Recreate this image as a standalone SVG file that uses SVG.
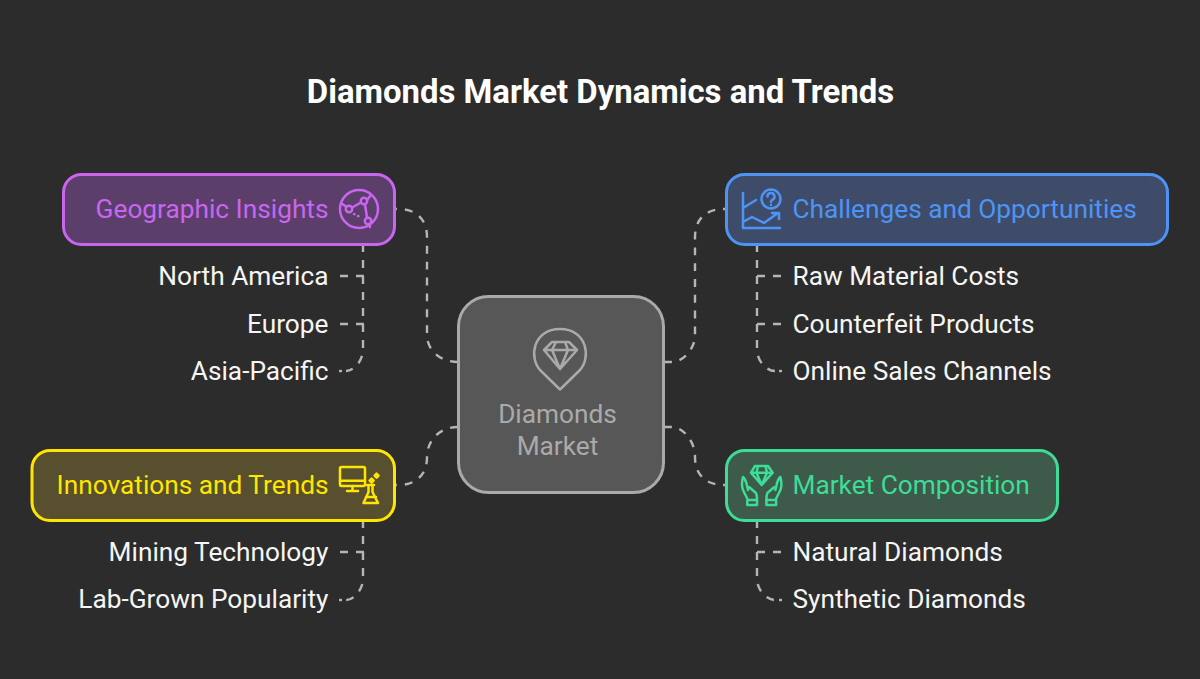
<svg xmlns="http://www.w3.org/2000/svg" width="1200" height="679" viewBox="0 0 1200 679">
<style>
text{font-family:Roboto,"Liberation Sans",sans-serif;font-size:26.25px}
.t{fill:#f5f5f5}.e{text-anchor:end}
.title{font-size:32.9px;font-weight:700;fill:#fff;text-anchor:middle}
.c{fill:none;stroke:#b5b5b5;stroke-width:2.4;stroke-dasharray:8 8}
.box{stroke-width:3}
.i{fill:none;stroke-width:2.5;stroke-linecap:round;stroke-linejoin:round}
</style>
<rect width="1200" height="679" fill="#2c2c2c"/>
<text class="title" x="600.500" y="102.500">Diamonds Market Dynamics and Trends</text>
<g id="connectors">
<path class="c" pathLength="200" d="M389,209 H398 C416,209 427,219 427,237 V335 C427,350 440,362 458,362"/>
<path class="c" pathLength="200" d="M731,209 H724 C706,209 695,219 695,237 V335 C695,350 682,362 672,362 H664"/>
<path class="c" pathLength="104" d="M389,485 H398 C416,485 427,475 427,457 C427,440 440,427 458,427"/>
<path class="c" pathLength="104" d="M731,485 H724 C706,485 695,475 695,457 C695,440 682,427 672,427 H664"/>
<path class="c" d="M363,244 V349 C363,362 353,371 346,371"/>
<path class="c" d="M342,371 H339"/>
<path class="c" d="M340,276 H364"/><path class="c" d="M340,324 H364"/>
<path class="c" d="M757,244 V349 C757,362 767,371 775,371"/>
<path class="c" d="M779,371 H782"/>
<path class="c" d="M781,276 H756"/><path class="c" d="M781,324 H756"/>
<path class="c" d="M363,520 V578 C363,591 353,600 346,600"/>
<path class="c" d="M342,600 H339"/>
<path class="c" d="M340,552 H364"/>
<path class="c" d="M757,520 V578 C757,591 767,600 775,600"/>
<path class="c" d="M779,600 H782"/>
<path class="c" d="M781,552 H756"/>
</g>
<g id="center">
<rect x="458.500" y="296.500" width="205" height="196" rx="30" fill="#575757" stroke="#aaa" stroke-width="3"/>
<g class="i" stroke="#aaa">
<path d="M560,389.500 L541,371 C528,358 533,329 560,329 C587,329 592,358 579,371 Z"/>
<path d="M552,342 H569 L577,350 L560,369 L544,350 Z M544,350 H577 M556,342 L552,350 L560,369 L568,350 L565,342"/>
</g>
<text x="557.500" y="423" text-anchor="middle" fill="#aaa">Diamonds</text>
<text x="557.500" y="455" text-anchor="middle" fill="#aaa">Market</text>
</g>
<g id="geographic">
<rect class="box" x="63.500" y="174.500" width="331" height="70" rx="18" fill="#5c3e6a" stroke="#c866f0"/>
<text class="e" x="328.500" y="218" fill="#c866f0">Geographic Insights</text>
<g class="i" stroke="#c866f0">
<circle cx="359" cy="209" r="19"/><circle cx="349" cy="209" r="3.200"/><circle cx="364" cy="201" r="3.200"/><circle cx="368" cy="221" r="3.200"/>
<path d="M341,203 L346.500,207 M352,207.500 L361,202.500 M367,200 L371,195 M365,204.500 L367,217.500 M369,224 L370,227"/>
<path d="M354,214 L362,218" stroke-dasharray=".5 4"/>
</g>
</g>
<g id="north-america"><text class="t e" x="328.500" y="285">North America</text></g>
<g id="europe"><text class="t e" x="328.500" y="333">Europe</text></g>
<g id="asia-pacific"><text class="t e" x="328.500" y="380">Asia-Pacific</text></g>
<g id="challenges">
<rect class="box" x="726.500" y="174.500" width="441" height="70" rx="18" fill="#3e4c6a" stroke="#4d94f5"/>
<text x="792.500" y="218" fill="#4d94f5">Challenges and Opportunities</text>
<g class="i" stroke="#4d94f5">
<path d="M743,193 V228 H780 M743,208 L756,200 M743,222 L752,217 L764,223 L778,213 M772,213 H779 V219"/>
<circle cx="771" cy="199" r="9.500"/>
<path d="M767.500,196.500 a3.500,3.500 0 1 1 5,3.200 c-1,.7 -1.500,1 -1.500,2.300 M771,205 v.1"/>
</g>
</g>
<g id="raw-material"><text class="t" x="792.500" y="285">Raw Material Costs</text></g>
<g id="counterfeit"><text class="t" x="792.500" y="333">Counterfeit Products</text></g>
<g id="online-sales"><text class="t" x="792.500" y="380">Online Sales Channels</text></g>
<g id="innovations">
<rect class="box" x="32" y="450.500" width="362.500" height="70" rx="18" fill="#574f2e" stroke="#ffe600"/>
<text class="e" x="328.500" y="494" fill="#ffe600">Innovations and Trends</text>
<g class="i" stroke="#ffe600">
<rect x="340" y="467" width="25" height="19" rx="1.500"/>
<path d="M340,480.700 H365 M352.500,486 V491 M347,491 H358"/>
<path d="M367,485 H374 M368.500,485 V492 L363.500,503 H378 L372.500,492 V485 M366,497 H376"/>
<path d="M371.600,478.700 l2,2 l-2,2 l-2,-2 Z M376.600,473.700 l2,2 l-2,2 l-2,-2 Z"/>
</g>
</g>
<g id="mining"><text class="t e" x="328.500" y="561">Mining Technology</text></g>
<g id="lab-grown"><text class="t e" x="328.500" y="608">Lab-Grown Popularity</text></g>
<g id="market-composition">
<rect class="box" x="726.500" y="450.500" width="331" height="70" rx="18" fill="#3e5a4a" stroke="#3ddc97"/>
<text x="792.500" y="494" fill="#3ddc97">Market Composition</text>
<g class="i" stroke="#3ddc97">
<path d="M755,466 H768 L772.700,472.700 L761.700,485 L751,472.700 Z M751,472.700 H772.700 M758,466 L756.500,472.700 L761.700,485 L767,472.700 L765.500,466"/>
<path d="M748,500 L743,490 Q741,484 743,477 Q746,480 747,486 L748,490 M749,487 L756,493 Q757,495 757,500 M747.300,500 H757 V505 H747.300 Z"/>
<path d="M775.400,500 L780.400,490 Q782.400,484 780.400,477 Q777.400,480 776.400,486 L775.400,490 M774.400,487 L767.400,493 Q766.400,495 766.400,500 M776.100,500 H766.400 V505 H776.100 Z"/>
</g>
</g>
<g id="natural"><text class="t" x="792.500" y="561">Natural Diamonds</text></g>
<g id="synthetic"><text class="t" x="792.500" y="608">Synthetic Diamonds</text></g>
</svg>
